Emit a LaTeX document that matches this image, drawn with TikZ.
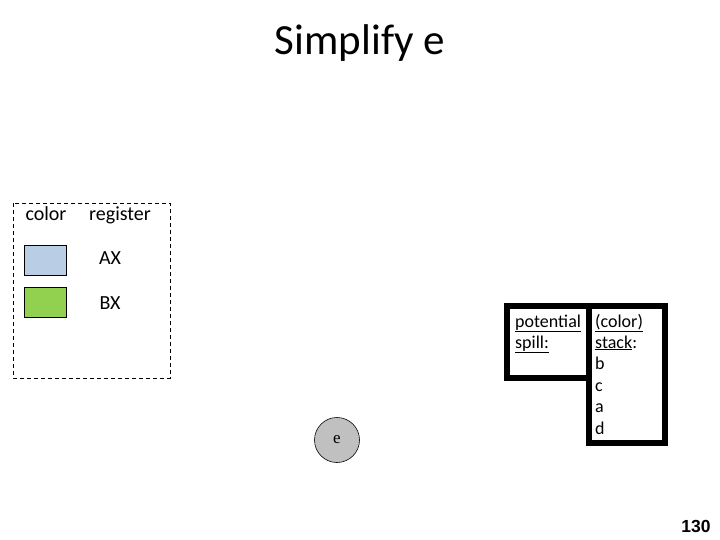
\documentclass[tikz,border=0pt]{standalone}
\usepackage{fontspec}
\setmainfont{Carlito}
\newfontfamily\serifface{Liberation Serif}
\newfontfamily\numface{Liberation Sans}
\definecolor{swblue}{RGB}{185,205,229}
\definecolor{swgreen}{RGB}{146,208,80}
\definecolor{nodegray}{RGB}{192,192,192}
\begin{document}
\begin{tikzpicture}[x=1pt,y=-1pt,
  body/.style={font=\fontsize{20}{24}\selectfont, inner sep=0pt},
  spilltxt/.style={font=\fontsize{18}{21.5}\selectfont, inner sep=0pt, anchor=base west},
  swatch/.style={draw=black, line width=0.8pt, minimum width=42pt, minimum height=30pt, inner sep=0pt},
  thickbox/.style={draw=black, line width=6pt}]
\useasboundingbox (0,0) rectangle (720,540);
\node[font=\fontsize{43}{50}\selectfont, inner sep=0pt, anchor=base] (title) at (360,55) {Simplify e};
% legend
\draw[dash pattern=on 4pt off 3pt, line width=0.8pt] (13,203) rectangle (170,378);
\node[body, anchor=base] (lc) at (46,221) {color};
\node[body, anchor=base] (lr) at (120,221) {register};
\node[swatch, fill=swblue] (sa) at (45,260) {};
\node[swatch, fill=swgreen] (sb) at (45,302) {};
\node[body, anchor=base] (ax) at (110,264) {AX};
\node[body, anchor=base] (bx) at (110,309) {BX};
% spill / stack boxes
\draw[thickbox] (507,306) rectangle (589,378);
\draw[thickbox] (589,306) rectangle (665,443);
\node[spilltxt] (p1) at (515,327) {\underline{potential}};
\node[spilltxt] (p2) at (515,348) {\underline{spill:}};
\node[spilltxt] (s1) at (595,327) {\underline{(color)}};
\node[spilltxt] (s2) at (595,348) {\underline{stack}:};
\node[spilltxt] (s3) at (595,369.5) {b};
\node[spilltxt] (s4) at (595,391) {c};
\node[spilltxt] (s5) at (595,412.5) {a};
\node[spilltxt] (s6) at (595,434) {d};
% node e
\node[circle, draw=black, line width=0.6pt, fill=nodegray, minimum size=45pt, inner sep=0pt, font=\serifface\fontsize{17}{19}\selectfont] (e) at (337,440) {e};
% page number
\node[font=\numface\bfseries\fontsize{17.5}{20}\selectfont, inner sep=0pt] (pg) at (696,526) {130};
\end{tikzpicture}
\end{document}
